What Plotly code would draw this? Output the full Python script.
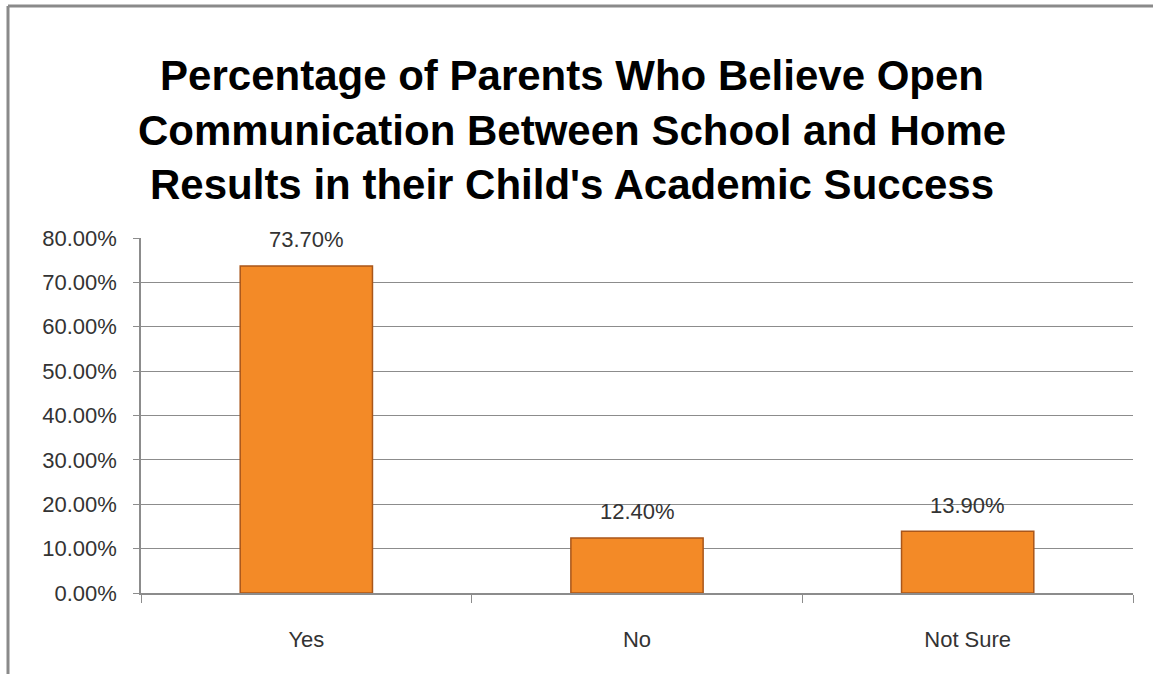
import plotly.graph_objects as go

categories = ["Yes", "No", "Not Sure"]
values = [73.70, 12.40, 13.90]
y_ticks = [0, 10, 20, 30, 40, 50, 60, 70, 80]
y_tick_labels = ["%.2f%%" % v for v in y_ticks]
title_lines = ["Percentage of Parents Who Believe Open",
               "Communication Between School and Home",
               "Results in their Child's Academic Success"]

W, H = 1153, 674
ML, MR, MT, MB = 141, 20, 238, 81
PW, PH = W - ML - MR, H - MT - MB
FONT = "Liberation Sans"

fig = go.Figure()
fig.add_trace(go.Bar(
    x=categories, y=values, width=0.4,
    marker=dict(color="#F38A27", line=dict(color="#A9561A", width=1.5)),
    hoverinfo="skip",
))

for c, v in zip(categories, values):
    fig.add_annotation(x=c, y=v, text="%.2f%%" % v, showarrow=False,
                       yshift=26, font=dict(size=22, color="#333333", family=FONT))

fig.add_annotation(xref="paper", yref="paper", x=(572 - ML) / PW,
                   y=(H - MB - 130) / PH,
                   text="<b>" + "<br>".join(title_lines) + "</b>",
                   showarrow=False, xanchor="center", yanchor="middle",
                   font=dict(size=42, color="#000000", family=FONT),
                   align="center")

# outer frame (left & top edges)
fx = (8 - ML) / PW
fy = (H - MB - 6) / PH
fig.add_shape(type="line", xref="paper", yref="paper", x0=fx, x1=(W + 10 - ML) / PW,
              y0=fy, y1=fy, line=dict(color="#8A8A8A", width=3))
fig.add_shape(type="line", xref="paper", yref="paper", x0=fx, x1=fx,
              y0=fy, y1=-0.5, line=dict(color="#8A8A8A", width=3))

fig.update_layout(
    width=W, height=H,
    margin=dict(l=ML, r=MR, t=MT, b=MB),
    paper_bgcolor="white", plot_bgcolor="white",
    showlegend=False,
    bargap=0.6,
    font=dict(family=FONT, size=22, color="#333333"),
    xaxis=dict(showline=True, linecolor="#8C8C8C", linewidth=1.5,
               ticks="outside", ticklen=8, tickcolor="#8C8C8C",
               tickson="boundaries", ticklabelstandoff=26,
               tickfont=dict(size=22, color="#333333")),
    yaxis=dict(range=[0, 80], tickvals=y_ticks, ticktext=y_tick_labels,
               showline=True, linecolor="#8C8C8C", linewidth=1.5,
               ticks="outside", ticklen=6, tickcolor="#8C8C8C",
               showgrid=True, gridcolor="#8C8C8C", gridwidth=1,
               zeroline=False, ticklabelstandoff=12,
               tickfont=dict(size=22, color="#333333")),
)

fig.write_html("out.html", config={"displayModeBar": False},
               post_script="document.body.style.margin='0';")
